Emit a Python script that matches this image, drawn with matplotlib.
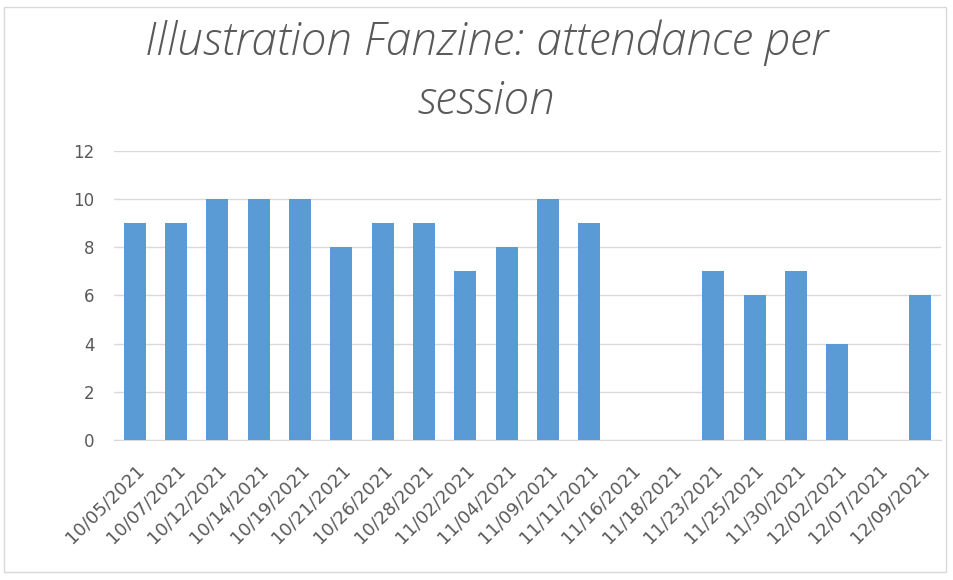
import numpy as np
import matplotlib.pyplot as plt
from matplotlib.patches import Rectangle

# -------------------------
# Data
# -------------------------
sessions = ["10/05/2021", "10/07/2021", "10/12/2021", "10/14/2021", "10/19/2021",
            "10/21/2021", "10/26/2021", "10/28/2021", "11/02/2021", "11/04/2021",
            "11/09/2021", "11/11/2021", "11/16/2021", "11/18/2021", "11/23/2021",
            "11/25/2021", "11/30/2021", "12/02/2021", "12/07/2021", "12/09/2021"]
attendance = [9, 9, 10, 10, 10, 8, 9, 9, 7, 8, 10, 9, 0, 0, 7, 6, 7, 4, 0, 6]

title = "Illustration Fanzine: attendance per\nsession"

# -------------------------
# Plot
# -------------------------
text_col = "#595959"
grid_col = "#D9D9D9"

fig = plt.figure(figsize=(9.54, 5.8), dpi=100)
ax = fig.add_axes([0.1195, 0.2414, 0.8665, 0.4983])

x = np.arange(len(sessions))
ax.bar(x, attendance, width=0.53, color="#5B9BD5", zorder=3)

ax.set_xlim(-0.5, len(sessions) - 0.5)
ax.set_ylim(0, 12)
ax.set_yticks(np.arange(0, 13, 2))
ax.set_xticks(x)
ax.set_xticklabels(sessions, rotation=45, ha="right", rotation_mode="anchor")

ax.grid(axis="y", color=grid_col, linewidth=1, zorder=0)
for s in ["top", "right", "left"]:
    ax.spines[s].set_visible(False)
ax.spines["bottom"].set_color(grid_col)
ax.tick_params(axis="y", length=0, colors=text_col, labelsize=12, pad=14)
ax.tick_params(axis="x", length=0, colors=text_col, labelsize=13, pad=15)

fig.text(0.51, 0.966, title, ha="center", va="top", fontsize=33,
         style="italic", color=text_col, family="Open Sans",
         fontweight="light", linespacing=1.36)

# chart border
fig.patches.append(Rectangle((0.004, 0.013), 0.988, 0.975, transform=fig.transFigure,
                             fill=False, edgecolor=grid_col, linewidth=1))

plt.savefig("out.png", dpi=100)
plt.close()
